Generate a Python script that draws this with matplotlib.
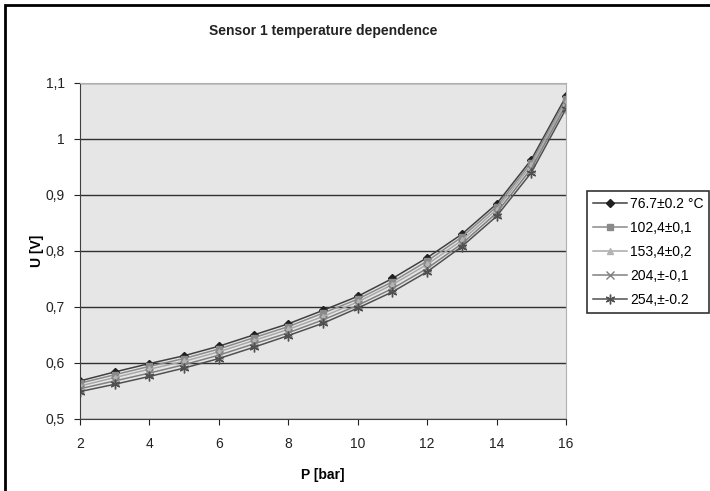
import matplotlib
matplotlib.use("Agg")
import matplotlib.pyplot as plt
import matplotlib.ticker as mticker
from matplotlib.patches import Rectangle

plt.rcParams["font.family"] = ["Liberation Sans", "DejaVu Sans"]

# --- data ---
pressure = [2, 3, 4, 5, 6, 7, 8, 9, 10, 11, 12, 13, 14, 15, 16]
labels = ["76.7±0.2 °C", "102,4±0,1", "153,4±0,2", "204,±-0,1", "254,±-0.2"]
u_767 = [0.568, 0.584, 0.599, 0.613, 0.630, 0.650, 0.670, 0.694, 0.719, 0.751, 0.788, 0.830, 0.884, 0.963, 1.076]
u_1024 = [0.564, 0.579, 0.594, 0.608, 0.625, 0.645, 0.665, 0.689, 0.714, 0.745, 0.782, 0.825, 0.879, 0.958, 1.071]
u_1534 = [0.559, 0.574, 0.589, 0.603, 0.620, 0.640, 0.660, 0.683, 0.709, 0.740, 0.776, 0.819, 0.874, 0.953, 1.066]
u_204 = [0.554, 0.568, 0.582, 0.597, 0.614, 0.634, 0.654, 0.677, 0.703, 0.733, 0.769, 0.813, 0.868, 0.947, 1.061]
u_254 = [0.549, 0.562, 0.576, 0.591, 0.608, 0.628, 0.649, 0.671, 0.698, 0.727, 0.763, 0.808, 0.862, 0.940, 1.054]

series = [u_767, u_1024, u_1534, u_204, u_254]
styles = [
    dict(color="#404040", marker="D", ms=4, mfc="#202020", mec="#202020"),
    dict(color="#8a8a8a", marker="s", ms=4.5, mfc="#8a8a8a", mec="#8a8a8a"),
    dict(color="#a8a8a8", marker="^", ms=5, mfc="#b4b4b4", mec="#b4b4b4"),
    dict(color="#808080", marker="x", ms=6, mfc="none", mec="#808080", mew=1),
    dict(color="#505050", marker=(6, 2, 0), ms=7, mfc="none", mec="#505050", mew=1),
]

fig = plt.figure(figsize=(7.1, 4.91), dpi=100)
fig.patch.set_facecolor("white")
fig.patches.append(Rectangle((5 / 710, -0.05), 1.1, 1 - 5 / 491 + 0.05,
                             transform=fig.transFigure, fill=False,
                             edgecolor="black", linewidth=2))

ax = fig.add_axes([80 / 710, 1 - 419 / 491, 486 / 710, 336 / 491])
ax.set_facecolor("#e6e6e6")

for vals, lab, st in zip(series, labels, styles):
    ax.plot(pressure, vals, label=lab, linewidth=1.1, **st)

ax.set_xlim(2, 16)
ax.set_ylim(0.5, 1.1)
ax.set_xticks(range(2, 17, 2))
ax.set_yticks([0.5, 0.6, 0.7, 0.8, 0.9, 1.0, 1.1])
ax.yaxis.set_major_formatter(mticker.FuncFormatter(lambda v, _: f"{v:g}".replace(".", ",")))
ax.yaxis.grid(True, color="#303030", linewidth=1)
ax.set_axisbelow(True)
ax.tick_params(labelsize=10, colors="#222222", length=4, direction="out")
ax.tick_params(axis="x", pad=9)
ax.tick_params(axis="y", pad=7)

for s in ["left", "bottom"]:
    ax.spines[s].set_color("#404040")
for s in ["top", "right"]:
    ax.spines[s].set_color("#b0b0b0")

ax.set_xlabel("P [bar]", fontsize=10, fontweight="bold", labelpad=12)
ax.set_ylabel("U [V]", fontsize=10, fontweight="bold", labelpad=1)
fig.text(323 / 710, 1 - 31 / 491, "Sensor 1 temperature dependence",
         ha="center", va="center", fontsize=10, fontweight="bold", color="#222222")

leg = fig.legend(loc="center left", bbox_to_anchor=(587 / 710, 1 - 252 / 491),
                 borderaxespad=0, fontsize=10, frameon=True, fancybox=False,
                 handlelength=2.5, borderpad=0.4, labelspacing=0.72,
                 handletextpad=0.2)
leg.get_frame().set_edgecolor("black")
leg.get_frame().set_linewidth(1.2)

fig.savefig("out.png", dpi=100)
